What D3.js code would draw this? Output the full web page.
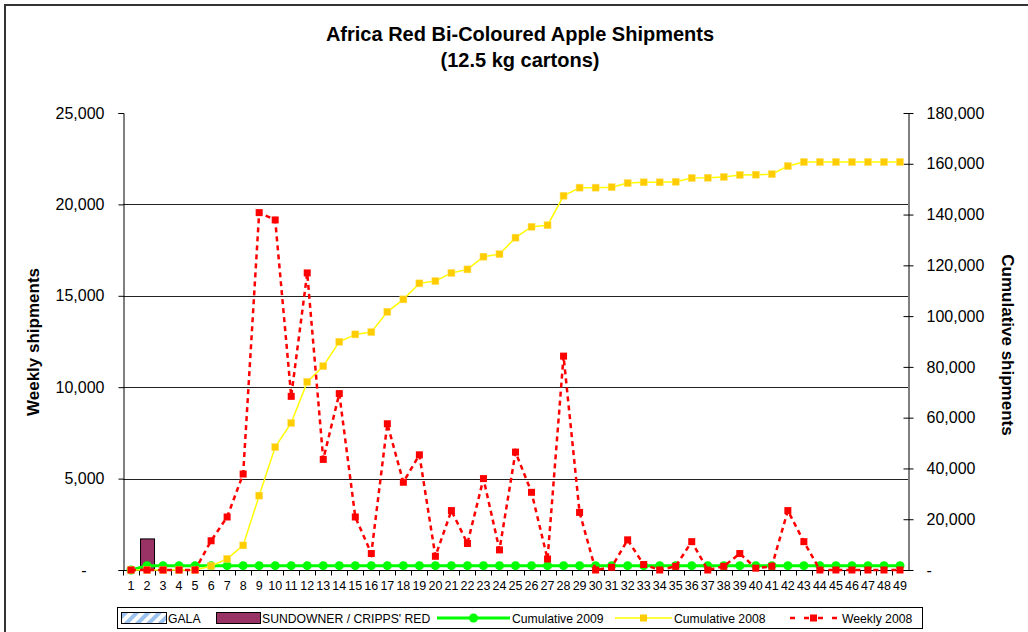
<!DOCTYPE html>
<html>
<head>
<meta charset="utf-8">
<script src="https://cdn.jsdelivr.net/npm/d3@7"></script>
<style>
  body { margin: 0; background: #fff; }
  svg { font-family: Arial, "Liberation Sans", sans-serif; }
</style>
</head>
<body>
<script>
// week numbers on the category axis
const weeks = [1, 2, 3, 4, 5, 6, 7, 8, 9, 10, 11, 12, 13, 14, 15, 16, 17, 18, 19, 20,
  21, 22, 23, 24, 25, 26, 27, 28, 29, 30, 31, 32, 33, 34, 35, 36, 37, 38, 39, 40,
  41, 42, 43, 44, 45, 46, 47, 48, 49];

// bar series (left axis)
const gala = [0, 0, 0, 0, 0, 0, 0, 0, 0, 0, 0, 0, 0, 0, 0, 0, 0, 0, 0, 0,
  0, 0, 0, 0, 0, 0, 0, 0, 0, 0, 0, 0, 0, 0, 0, 0, 0, 0, 0, 0,
  0, 0, 0, 0, 0, 0, 0, 0, 0];
const sundowner = [0, 1700, 0, 0, 0, 0, 0, 0, 0, 0, 0, 0, 0, 0, 0, 0, 0, 0, 0, 0,
  0, 0, 0, 0, 0, 0, 0, 0, 0, 0, 0, 0, 0, 0, 0, 0, 0, 0, 0, 0,
  0, 0, 0, 0, 0, 0, 0, 0, 0];

// weekly 2008 (left axis)
const weekly2008 = [0, 0, 0, 0, 0, 1600, 2900, 5250, 19550, 19150,
  9500, 16250, 6050, 9650, 2900, 900, 8000, 4800, 6300, 750,
  3250, 1450, 5000, 1100, 6450, 4250, 600, 11700, 3150, 0,
  150, 1650, 300, 0, 200, 1550, 0, 200, 900, 100,
  200, 3250, 1550, 0, 0, 0, 0, 0, 0];

// cumulative series (right axis)
const cumulative2008 = [0, 0, 0, 0, 0, 1600, 4400, 9700, 29300, 48400,
  57900, 74100, 80300, 89900, 92800, 93700, 101700, 106600, 112900, 113800,
  117000, 118400, 123400, 124400, 130900, 135200, 135800, 147400, 150600, 150600,
  150800, 152400, 152700, 152700, 152900, 154400, 154500, 154800, 155600, 155700,
  155900, 159100, 160700, 160700, 160700, 160700, 160700, 160700, 160700];
const cumulative2009 = [0, 1700, 1700, 1700, 1700, 1700, 1700, 1700, 1700, 1700,
  1700, 1700, 1700, 1700, 1700, 1700, 1700, 1700, 1700, 1700,
  1700, 1700, 1700, 1700, 1700, 1700, 1700, 1700, 1700, 1700,
  1700, 1700, 1700, 1700, 1700, 1700, 1700, 1700, 1700, 1700,
  1700, 1700, 1700, 1700, 1700, 1700, 1700, 1700, 1700];

const leftTicks = [0, 5000, 10000, 15000, 20000, 25000];
const rightTicks = [0, 20000, 40000, 60000, 80000, 100000, 120000, 140000, 160000, 180000];

const W = 1028, H = 632;
const plot = { left: 123, right: 908, top: 113, bottom: 570 };

const svg = d3.select("body").append("svg")
  .attr("width", W)
  .attr("height", H);

// outer chart border
svg.append("rect")
  .attr("x", 5).attr("y", 5)
  .attr("width", W + 10).attr("height", H + 10)
  .attr("fill", "none")
  .attr("stroke", "#333")
  .attr("stroke-width", 2);

// scales
const x = d3.scaleBand()
  .domain(weeks)
  .range([plot.left, plot.right]);
const yLeft = d3.scaleLinear().domain([0, 25000]).range([plot.bottom, plot.top]);
const yRight = d3.scaleLinear().domain([0, 180000]).range([plot.bottom, plot.top]);
const cx = d => x(d) + x.bandwidth() / 2;
const fmt = d3.format(",");

// gridlines
svg.append("g")
  .selectAll("line")
  .data(leftTicks.filter(d => d > 0 && d < 25000))
  .join("line")
  .attr("x1", plot.left).attr("x2", plot.right)
  .attr("y1", d => Math.round(yLeft(d)) + 0.5)
  .attr("y2", d => Math.round(yLeft(d)) + 0.5)
  .attr("stroke", "#222");

// left axis
const leftAxis = svg.append("g")
  .attr("transform", `translate(${plot.left + 0.5},0)`)
  .call(d3.axisLeft(yLeft).tickValues(leftTicks).tickSize(5).tickPadding(14)
    .tickFormat(d => d === 0 ? "-" : fmt(d)));
leftAxis.select(".domain").attr("stroke", "#000");
leftAxis.selectAll("text")
  .attr("font-size", 16).attr("fill", "#000")
  .attr("font-family", "Arial, 'Liberation Sans', sans-serif")
  .attr("dx", d => d === 0 ? -18 : 0);

// right axis
const rightAxis = svg.append("g")
  .attr("transform", `translate(${plot.right + 0.5},0)`)
  .call(d3.axisRight(yRight).tickValues(rightTicks).tickSizeInner(5).tickSizeOuter(0).tickPadding(13)
    .tickFormat(d => d === 0 ? "-" : fmt(d)));
rightAxis.selectAll(".tick line").attr("x1", -5);
rightAxis.selectAll("text")
  .attr("font-size", 16).attr("fill", "#000")
  .attr("font-family", "Arial, 'Liberation Sans', sans-serif");

// bottom axis with ticks between categories
const xAxis = svg.append("g")
  .attr("transform", `translate(0,${plot.bottom + 0.5})`);
xAxis.append("line")
  .attr("x1", plot.left).attr("x2", plot.right + 1)
  .attr("stroke", "#000");
xAxis.selectAll(".sep")
  .data(weeks)
  .join("line")
  .attr("class", "sep")
  .attr("x1", d => Math.round(x(d)) + 0.5)
  .attr("x2", d => Math.round(x(d)) + 0.5)
  .attr("y1", 0).attr("y2", 5)
  .attr("stroke", "#000");
xAxis.selectAll(".lbl")
  .data(weeks)
  .join("text")
  .attr("class", "lbl")
  .attr("x", d => cx(d))
  .attr("y", 19)
  .attr("text-anchor", "middle")
  .attr("font-size", 12.5)
  .text(d => d);

// bars
const barW = 14;
svg.append("g")
  .selectAll("rect")
  .data(weeks.map((w, i) => ({ w, v: sundowner[i] })).filter(d => d.v > 0))
  .join("rect")
  .attr("x", d => cx(d.w) - barW / 2 + 0.5)
  .attr("y", d => yLeft(d.v))
  .attr("width", barW)
  .attr("height", d => yLeft(0) - yLeft(d.v))
  .attr("fill", "#993366")
  .attr("stroke", "#000")
  .attr("stroke-width", 1);

// cumulative 2009
const lineCum = d3.line().x((d, i) => cx(weeks[i])).y(d => yRight(d));
svg.append("path")
  .datum(cumulative2009)
  .attr("d", lineCum)
  .attr("fill", "none")
  .attr("stroke", "#00ff00")
  .attr("stroke-width", 3);
svg.append("g")
  .selectAll("circle")
  .data(cumulative2009)
  .join("circle")
  .attr("cx", (d, i) => cx(weeks[i]))
  .attr("cy", d => yRight(d))
  .attr("r", 4.5)
  .attr("fill", "#00ff00");

// cumulative 2008
svg.append("path")
  .datum(cumulative2008)
  .attr("d", lineCum)
  .attr("fill", "none")
  .attr("stroke", "#ffff00")
  .attr("stroke-width", 1.5);
svg.append("g")
  .selectAll("rect")
  .data(cumulative2008)
  .join("rect")
  .attr("x", (d, i) => cx(weeks[i]) - 3.5)
  .attr("y", d => yRight(d) - 3.5)
  .attr("width", 7).attr("height", 7)
  .attr("fill", "#ffcc00")
  .attr("stroke", "#ffe066")
  .attr("stroke-width", 0.5);

// weekly 2008
const lineWk = d3.line().x((d, i) => cx(weeks[i])).y(d => yLeft(d));
svg.append("path")
  .datum(weekly2008)
  .attr("d", lineWk)
  .attr("fill", "none")
  .attr("stroke", "#ff0000")
  .attr("stroke-width", 2.5)
  .attr("stroke-dasharray", "5 4");
svg.append("g")
  .selectAll("rect")
  .data(weekly2008)
  .join("rect")
  .attr("x", (d, i) => cx(weeks[i]) - 3.5)
  .attr("y", d => yLeft(d) - 3.5)
  .attr("width", 7).attr("height", 7)
  .attr("fill", "#ff0000");

// titles
const title = svg.append("text")
  .attr("x", 520).attr("text-anchor", "middle")
  .attr("font-size", 20).attr("font-weight", "bold");
title.append("tspan").attr("x", 520).attr("y", 41).text("Africa Red Bi-Coloured Apple Shipments");
title.append("tspan").attr("x", 520).attr("y", 67).text("(12.5 kg cartons)");

svg.append("text")
  .attr("transform", "translate(39,342) rotate(-90)")
  .attr("text-anchor", "middle")
  .attr("font-size", 17).attr("font-weight", "bold")
  .text("Weekly shipments");
svg.append("text")
  .attr("transform", "translate(1002,345) rotate(90)")
  .attr("text-anchor", "middle")
  .attr("font-size", 17).attr("font-weight", "bold")
  .text("Cumulative shipments");

// legend
const defs = svg.append("defs");
const pat = defs.append("pattern")
  .attr("id", "galaStripe")
  .attr("patternUnits", "userSpaceOnUse")
  .attr("width", 8).attr("height", 8)
  .attr("patternTransform", "rotate(45)");
pat.append("rect").attr("width", 8).attr("height", 8).attr("fill", "#fff");
pat.append("rect").attr("width", 4).attr("height", 8).attr("fill", "#9cc3ef");

const legend = svg.append("g");
legend.append("rect")
  .attr("x", 117.5).attr("y", 607.5)
  .attr("width", 805).attr("height", 21)
  .attr("fill", "#fff").attr("stroke", "#000");

const legendItems = [
  { name: "GALA", kind: "bar", fill: "url(#galaStripe)", x: 121, len: 45 },
  { name: "SUNDOWNER / CRIPPS' RED", kind: "bar", fill: "#993366", x: 216, len: 44 },
  { name: "Cumulative 2009", kind: "circle", color: "#00ff00", x: 437, len: 73 },
  { name: "Cumulative 2008", kind: "square", color: "#ffff00", marker: "#ffcc00", x: 615, len: 57 },
  { name: "Weekly 2008", kind: "dash", color: "#ff0000", x: 787, len: 53 }
];
const ly = 618;
legendItems.forEach(it => {
  const g = legend.append("g");
  if (it.kind === "bar") {
    g.append("rect")
      .attr("x", it.x + 0.5).attr("y", ly - 5.5)
      .attr("width", it.len).attr("height", 11)
      .attr("fill", it.fill).attr("stroke", "#000");
  } else {
    g.append("line")
      .attr("x1", it.x).attr("x2", it.x + it.len)
      .attr("y1", ly).attr("y2", ly)
      .attr("stroke", it.color)
      .attr("stroke-width", it.kind === "circle" ? 3 : it.kind === "dash" ? 2.5 : 1.5)
      .attr("stroke-dasharray", it.kind === "dash" ? "5 9" : null)
      .attr("stroke-dashoffset", it.kind === "dash" ? -3 : null);
    const mid = it.x + it.len / 2;
    if (it.kind === "circle") {
      g.append("circle").attr("cx", mid).attr("cy", ly).attr("r", 4.5).attr("fill", it.color);
    } else {
      g.append("rect").attr("x", mid - 3.5).attr("y", ly - 3.5)
        .attr("width", 7).attr("height", 7)
        .attr("fill", it.kind === "square" ? it.marker : it.color);
    }
  }
  g.append("text")
    .attr("x", it.x + it.len + 2).attr("y", ly + 4.5)
    .attr("font-size", 12.2)
    .text(it.name);
});
</script>
</body>
</html>
